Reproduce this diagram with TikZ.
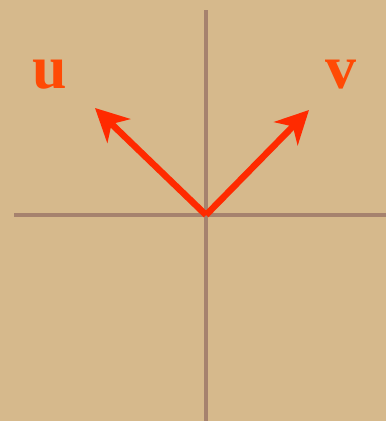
\documentclass[tikz,border=0pt]{standalone}
\usepackage{fontspec}
\setmainfont{Liberation Serif}
\usepackage{xcolor}
\usetikzlibrary{arrows.meta}
\definecolor{paper}{HTML}{D6B98C}
\definecolor{axiscol}{HTML}{A6826E}
\definecolor{vecred}{HTML}{FF2A00}
\definecolor{labred}{HTML}{FF4A05}

\begin{document}
\begin{tikzpicture}[x=1pt, y=-1pt, axis/.style={draw=axiscol, line width=4pt}, vec/.style={draw=vecred, line width=6.5pt, -{Stealth[length=33pt, width=33pt, inset=10pt]}}, lab/.style={text=labred, font=\fontsize{62}{62}\selectfont\bfseries, inner sep=0pt}]
\fill[paper] (0,0) rectangle (386,421);
\useasboundingbox (0,0) rectangle (386,421);
\coordinate (O) at (206,215);
\coordinate (xl) at (14,215);
\coordinate (xr) at (386,215);
\coordinate (yt) at (206,10);
\coordinate (yb) at (206,421);
\coordinate (tu) at (95,108);
\coordinate (tv) at (309,110);
\draw[axis] (xl) -- (xr);
\draw[axis] (yt) -- (yb);
\draw[vec] (O) -- (tu);
\draw[vec] (O) -- (tv);
\node[lab] (u) at (50,75) {u};
\node[lab] (v) at (341,75) {v};
\end{tikzpicture}
\end{document}
